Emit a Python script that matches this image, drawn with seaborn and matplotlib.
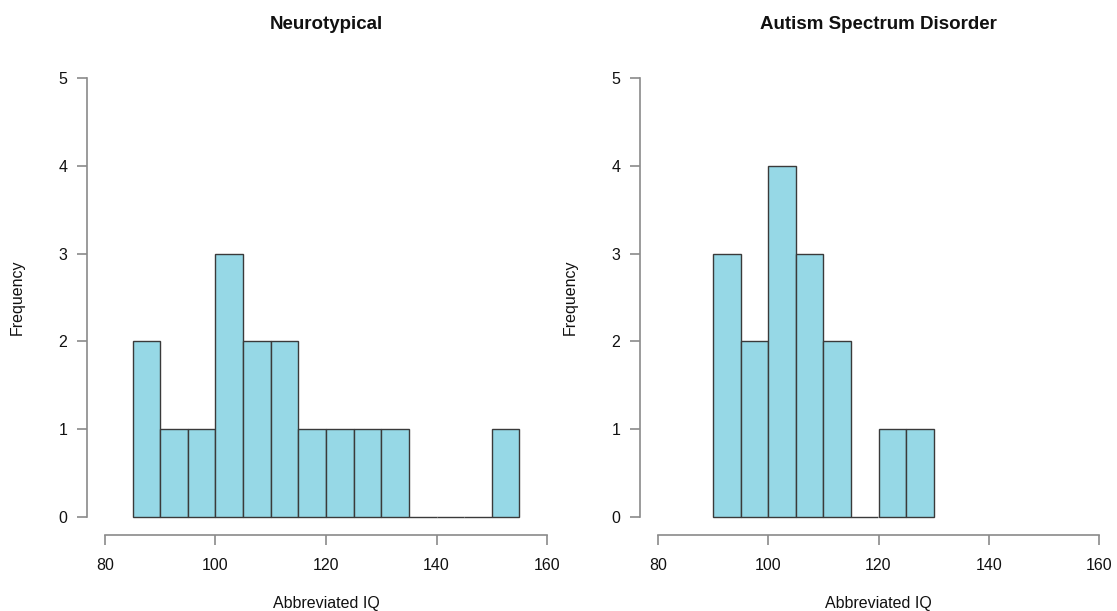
import numpy as np
import pandas as pd
import matplotlib
matplotlib.use("Agg")
import matplotlib.pyplot as plt
import seaborn as sns

# Data (bin width 5)
nt_edges = [85, 90, 95, 100, 105, 110, 115, 120, 125, 130, 135, 140, 145, 150, 155]
nt_counts = [2, 1, 1, 3, 2, 2, 1, 1, 1, 1, 0, 0, 0, 1]
asd_edges = [90, 95, 100, 105, 110, 115, 120, 125, 130]
asd_counts = [3, 2, 4, 3, 2, 0, 1, 1]
titles = ["Neurotypical", "Autism Spectrum Disorder"]
x_ticks = [80, 100, 120, 140, 160]
y_ticks = [0, 1, 2, 3, 4, 5]

sns.set_style("ticks")
plt.rcParams["font.family"] = ["Liberation Sans", "DejaVu Sans"]

fig = plt.figure(figsize=(11.17, 6.11), dpi=100)
W, H = 1117, 611
ax1 = fig.add_axes([87.3 / W, (H - 534.6) / H, 477.4 / W, 474.2 / H])
ax2 = fig.add_axes([640.4 / W, (H - 534.6) / H, 476.2 / W, 474.2 / H])

fill = "#96D8E6"
edge = "#3a3a3a"
axis_col = "#8a8a8a"

for ax, edges, counts, title in [
    (ax1, nt_edges, nt_counts, titles[0]),
    (ax2, asd_edges, asd_counts, titles[1]),
]:
    mids = [(edges[i] + edges[i + 1]) / 2 for i in range(len(counts))]
    df = pd.DataFrame({"iq": mids, "n": counts})
    sns.histplot(data=df, x="iq", weights="n", bins=edges, ax=ax,
                 color=fill, edgecolor=edge, linewidth=1.0, alpha=1.0)
    ax.set_xlim(76.8, 163.2)
    ax.set_ylim(-0.2, 5.2)
    ax.set_xticks(x_ticks)
    ax.set_yticks(y_ticks)
    for s in ["top", "right"]:
        ax.spines[s].set_visible(False)
    ax.spines["left"].set_bounds(0, 5)
    ax.spines["bottom"].set_bounds(80, 160)
    for s in ["left", "bottom"]:
        ax.spines[s].set_color(axis_col)
        ax.spines[s].set_linewidth(1.2)
    ax.tick_params(axis="both", colors=axis_col, length=7, width=1.2,
                   labelsize=11.5, labelcolor="#111111")
    ax.tick_params(axis="x", pad=9.5)
    ax.tick_params(axis="y", pad=7.5)
    ax.set_title(title, fontsize=13.5, fontweight="bold", pad=0, y=1.066, color="#111111")
    ax.set_xlabel("Abbreviated IQ", fontsize=11.5, color="#111111")
    ax.set_ylabel("Frequency", fontsize=11.5, color="#111111")
    ax.xaxis.set_label_coords(0.5, -0.13)
    ax.yaxis.set_label_coords(-0.132, 0.5)

fig.savefig("out.png", dpi=100)
